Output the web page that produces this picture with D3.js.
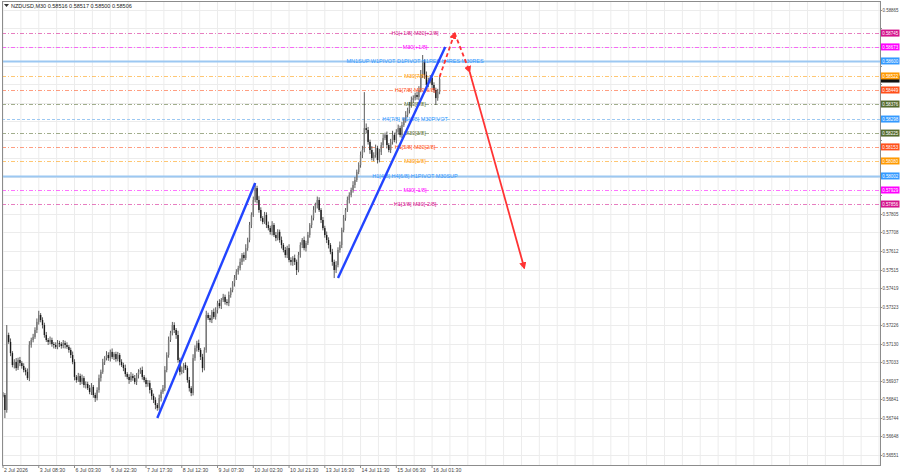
<!DOCTYPE html>
<html>
<head>
<meta charset="utf-8">
<script src="https://cdn.jsdelivr.net/npm/d3@7"></script>
<style>
  body { margin: 0; background: #fff; }
  svg { display: block; font-family: "Liberation Sans", Arial, sans-serif; }
</style>
</head>
<body>
<svg id="chart" width="900" height="474"></svg>
<script>
// ---- data ----
const titleText = "NZDUSD,M30  0.58516 0.58517 0.58500 0.58506";
const lastPrice = 0.58506;

// hourly closes (open = previous close)
const closes = [
  0.56863,0.56785,0.57175,0.57139,0.57081,0.57019,0.57035,0.57003,0.57045,0.57029,
  0.57014,0.56993,0.56983,0.56951,0.57123,0.57149,0.57165,0.57201,0.57243,0.57279,
  0.57253,0.57227,0.57175,0.57149,0.57139,0.57149,0.57128,0.57123,0.57113,0.57133,
  0.57128,0.57118,0.57133,0.57123,0.57113,0.57097,0.57071,0.57035,0.56957,0.56941,
  0.56962,0.56931,0.56951,0.56915,0.56920,0.56899,0.56879,0.56905,0.56863,0.56847,
  0.56889,0.56951,0.56983,0.57035,0.57055,0.57071,0.57055,0.57087,0.57061,0.57076,
  0.57050,0.57071,0.57035,0.57019,0.57003,0.56972,0.56957,0.56941,0.56962,0.56951,
  0.56931,0.56967,0.56983,0.56993,0.56957,0.56941,0.56920,0.56925,0.56889,0.56858,
  0.56837,0.56811,0.56795,0.56847,0.56879,0.56899,0.56993,0.57071,0.57149,0.57185,
  0.57227,0.57201,0.57175,0.57045,0.56983,0.56993,0.57019,0.57003,0.56941,0.56899,
  0.56873,0.57055,0.57107,0.57133,0.57097,0.57061,0.57003,0.57097,0.57279,0.57263,
  0.57253,0.57295,0.57269,0.57305,0.57341,0.57326,0.57357,0.57373,0.57347,0.57341,
  0.57383,0.57409,0.57445,0.57471,0.57503,0.57523,0.57555,0.57591,0.57575,0.57627,
  0.57669,0.57747,0.57799,0.57877,0.57939,0.57877,0.57825,0.57783,0.57763,0.57799,
  0.57747,0.57731,0.57711,0.57747,0.57695,0.57679,0.57711,0.57669,0.57643,0.57617,
  0.57591,0.57627,0.57565,0.57555,0.57575,0.57555,0.57513,0.57591,0.57643,0.57669,
  0.57627,0.57653,0.57695,0.57747,0.57783,0.57825,0.57851,0.57877,0.57825,0.57773,
  0.57731,0.57695,0.57669,0.57643,0.57607,0.57555,0.57513,0.57539,0.57617,0.57643,
  0.57721,0.57783,0.57825,0.57877,0.57903,0.57929,0.57955,0.57981,0.58023,0.58059,
  0.58111,0.58137,0.58251,0.58241,0.58179,0.58137,0.58095,0.58111,0.58147,0.58085,
  0.58127,0.58163,0.58199,0.58215,0.58163,0.58137,0.58179,0.58215,0.58189,0.58231,
  0.58251,0.58215,0.58267,0.58293,0.58319,0.58345,0.58371,0.58397,0.58407,0.58423,
  0.58413,0.58449,0.58527,0.58595,0.58527,0.58475,0.58501,0.58511,0.58475,0.58449,
  0.58407,0.58439,0.58506
];

// wick lengths in points (0.00001), above body / below body
const upWick = [
  15,10,52,12,18,10,14,20,12,16, 10,14,12,18,20,12,16,14,18,22,
  10,14,12,16,10,18,12,10,14,16, 12,10,16,12,14,10,12,18,14,10,
  16,12,18,10,14,12,16,20,10,12, 14,18,12,16,10,20,14,12,18,10,
  12,16,10,14,12,18,10,14,20,12, 16,10,14,12,18,10,12,16,14,10,
  12,14,10,18,12,16,20,14,18,12, 16,14,10,22,12,18,10,14,12,16,
  10,20,14,12,18,10,16,14,22,12, 16,10,18,14,12,20,10,16,12,14,
  18,12,10,16,14,12,18,10,14,20, 12,16,14,18,26,12,20,14,10,16,
  14,18,12,20,10,16,14,12,18,10, 16,12,20,14,10,18,12,16,14,10,
  18,12,16,10,14,20,12,18,14,10, 16,12,18,14,10,16,12,20,14,18,
  12,16,10,18,14,12,20,16,12,14, 18,22,187,24,16,12,20,14,18,12,
  16,14,20,12,18,10,16,22,12,14, 18,12,16,14,20,12,16,18,14,12,
  16,20,26,36,14,18,12,16,20,14, 12,16,10
];
const downWick = [
  12,42,14,10,16,12,18,14,10,16, 14,12,18,10,16,14,12,10,16,14,
  12,18,14,10,16,12,14,18,10,12, 16,14,12,18,10,14,16,12,18,14,
  10,16,12,14,18,10,12,16,14,20, 12,14,18,10,16,12,14,18,10,16,
  14,12,18,10,16,14,12,20,10,14, 12,16,18,10,14,12,16,14,18,20,
  16,22,14,12,18,10,16,12,14,10, 12,16,20,14,18,12,16,10,14,18,
  16,12,14,18,10,16,22,12,14,10, 12,16,10,14,18,12,16,10,14,12,
  16,14,12,18,10,14,12,16,18,10, 14,12,16,10,12,18,14,16,12,10,
  16,12,14,18,10,16,12,14,18,12, 14,16,12,18,20,16,26,12,14,16,
  12,18,10,14,16,12,14,18,10,16, 12,14,16,18,12,20,42,16,12,14,
  16,12,14,10,18,12,14,16,10,12, 14,16,12,18,14,20,12,16,14,18,
  12,16,14,10,18,12,16,14,12,18, 14,12,16,10,14,12,18,14,16,12,
  14,18,12,16,20,14,12,18,16,14, 36,14,12
];

const timeLabels = ["2 Jul 2026","3 Jul 08:30","6 Jul 03:30","6 Jul 22:30","7 Jul 17:30",
  "8 Jul 12:30","9 Jul 07:30","10 Jul 02:30","10 Jul 21:30","13 Jul 16:30",
  "14 Jul 11:30","15 Jul 06:30","16 Jul 01:30"];
const timeLabelBars = [0,19,38,57,76,95,114,133,152,171,190,209,228];

const priceTicks = [0.58865,0.58769,0.58672,0.58576,0.58479,0.58383,0.58287,0.58190,
  0.58094,0.57997,0.57901,0.57805,0.57708,0.57612,0.57515,0.57419,0.57323,0.57226,
  0.57130,0.57033,0.56937,0.56841,0.56744,0.56648,0.56551];

const levelPrices = [0.58745,0.58673,0.58600,0.58522,0.58449,0.58376,0.58298,
  0.58225,0.58153,0.58080,0.58002,0.57929,0.57856];
const levelNames = ["H1[+1/8] M30[+2/8]","M30[+1/8]",
  "MN1SUP W1PIVOT D1PIVOT H1RES H4RES M30RES","M30[7/8]","H1[7/8] M30[6/8]",
  "M30[5/8]","H4[7/8] H1[6/8] M30PIVOT","M30[3/8]","H1[5/8] M30[2/8]","M30[1/8]",
  "H1[4/8] H4[6/8] H1PIVOT M30SUP","M30[-1/8]","H1[3/8] M30[-2/8]"];
const levelColors = ["#d4148c","#ff00ff","#3399ff","#ff9900","#ff4f1a","#556b2f",
  "#3399ff","#556b2f","#ff4f1a","#ff9900","#3399ff","#ff00ff","#d4148c"];
const levelKinds = ["dash","dash","thick","dash","dash","dash","blue","dash","dash",
  "dash","thick","dash","dash"];

// drawn objects: [bar index, price]
const trendLine1 = [[82,0.56743],[134,0.57965]];
const trendLine2 = [[178,0.57471],[235,0.58673]];
const projUp = [[232,0.58517],[240,0.58745]];
const projDown = [[240,0.58745],[248,0.58543]];
const projMain = [[248,0.58543],[277,0.57523]];

// ---- layout ----
const W = 900, H = 474;
const plot = {left: 2, right: 880, top: 1, bottom: 465};

const svg = d3.select("#chart");
svg.append("rect").attr("width", W).attr("height", H).attr("fill", "#fff");

const x = d3.scaleLinear().domain([0, closes.length - 1]).range([3, 439.6]);
const y = d3.scaleLinear().domain([0.56551, 0.58865]).range([455, 10]);

const defs = svg.append("defs");
defs.append("clipPath").attr("id", "clip").append("rect")
  .attr("x", plot.left).attr("y", plot.top)
  .attr("width", plot.right - plot.left).attr("height", plot.bottom - plot.top);
defs.append("marker").attr("id", "arrowRed")
  .attr("viewBox", "0 0 10 10").attr("refX", 8).attr("refY", 5)
  .attr("markerWidth", 4).attr("markerHeight", 4).attr("orient", "auto")
  .append("path").attr("d", "M0,0 L10,5 L0,10 z").attr("fill", "#ff3333");

// grid
const grid = svg.append("g").attr("clip-path", "url(#clip)");
const barStep = 9.5;
grid.selectAll("line.v").data(d3.range(0, 480, barStep)).enter().append("line")
  .attr("x1", d => x(d)).attr("x2", d => x(d))
  .attr("y1", plot.top).attr("y2", plot.bottom)
  .attr("stroke", "#ececec").attr("stroke-width", 1);
grid.selectAll("line.h").data(priceTicks).enter().append("line")
  .attr("x1", plot.left).attr("x2", plot.right)
  .attr("y1", d => Math.round(y(d)) + 0.5).attr("y2", d => Math.round(y(d)) + 0.5)
  .attr("stroke", "#ececec").attr("stroke-width", 1);

// level lines
const levels = svg.append("g").attr("clip-path", "url(#clip)");
levelPrices.forEach((p, i) => {
  const kind = levelKinds[i];
  const yy = Math.round(y(p)) + 0.5;
  levels.append("line")
    .attr("x1", plot.left).attr("x2", plot.right)
    .attr("y1", yy).attr("y2", yy)
    .attr("stroke", kind === "dash" ? levelColors[i] : "#9cc8f2")
    .attr("stroke-opacity", kind === "dash" ? 0.55 : 1)
    .attr("stroke-width", kind === "thick" ? 2 : 1)
    .attr("stroke-dasharray", kind === "thick" ? null : (kind === "blue" ? "3,2" : "4,2,1,2"));
});

// candles
const candles = svg.append("g").attr("clip-path", "url(#clip)");
closes.forEach((c, i) => {
  const o = i === 0 ? c : closes[i - 1];
  const top = Math.max(o, c), bot = Math.min(o, c);
  const hi = top + upWick[i] / 100000;
  const lo = bot - downWick[i] / 100000;
  const cx = x(i);
  candles.append("line")
    .attr("x1", cx).attr("x2", cx).attr("y1", y(hi)).attr("y2", y(lo))
    .attr("stroke", "#4a4a4a").attr("stroke-width", 0.9);
  candles.append("rect")
    .attr("x", cx - 0.7).attr("width", 1.4)
    .attr("y", y(top)).attr("height", Math.max(0.8, y(bot) - y(top)))
    .attr("fill", c >= o ? "#7a7a7a" : "#1a1a1a");
});

// level labels
levelPrices.forEach((p, i) => {
  svg.append("text")
    .attr("x", 415).attr("y", y(p) + 2)
    .attr("text-anchor", "middle")
    .attr("font-size", 5.5)
    .attr("fill", levelColors[i])
    .text(levelNames[i]);
});

// trend lines
const line = d3.line().x(d => x(d[0])).y(d => y(d[1]));
const marks = svg.append("g").attr("clip-path", "url(#clip)");
[trendLine1, trendLine2].forEach(seg => {
  marks.append("path").attr("d", line(seg))
    .attr("stroke", "#2244ff").attr("stroke-width", 2.4).attr("fill", "none");
});
[projUp, projDown].forEach(seg => {
  marks.append("path").attr("d", line(seg))
    .attr("stroke", "#ff3333").attr("stroke-width", 1.8).attr("fill", "none")
    .attr("stroke-dasharray", "4,3").attr("marker-end", "url(#arrowRed)");
});
marks.append("path").attr("d", line(projMain))
  .attr("stroke", "#ff3333").attr("stroke-width", 1.8).attr("fill", "none")
  .attr("marker-end", "url(#arrowRed)");

// frame
svg.append("rect")
  .attr("x", plot.left + 0.5).attr("y", plot.top + 0.5)
  .attr("width", plot.right - plot.left).attr("height", plot.bottom - plot.top)
  .attr("fill", "none").attr("stroke", "#8c8c8c").attr("stroke-width", 1);

// price axis (labels squeezed into the narrow strip on the right)
const axisFont = 4.6, axisLen = 16;
const boxPrices = levelPrices.concat([lastPrice]);
const yAxis = svg.append("g");
priceTicks.forEach(p => {
  const yy = Math.round(y(p)) + 0.5;
  yAxis.append("line").attr("x1", plot.right).attr("x2", plot.right + 2)
    .attr("y1", yy).attr("y2", yy).attr("stroke", "#8c8c8c");
  // a coloured price box covers the tick label, as in the terminal
  if (boxPrices.some(b => Math.abs(y(b) - y(p)) < 7)) return;
  yAxis.append("text").attr("x", plot.right + 2.5).attr("y", yy + 1.8)
    .attr("font-size", axisFont).attr("fill", "#444")
    .attr("textLength", axisLen).attr("lengthAdjust", "spacingAndGlyphs")
    .text(p.toFixed(5));
});
// bid box sits under the level boxes; only its lower edge peeks out
yAxis.append("rect").attr("x", plot.right + 1).attr("y", y(lastPrice) - 3.5)
  .attr("width", 18.5).attr("height", 7).attr("fill", "#111");
levelPrices.forEach((p, i) => {
  const yy = y(p);
  yAxis.append("rect").attr("x", plot.right + 1).attr("y", yy - 3.5)
    .attr("width", 18.5).attr("height", 7).attr("fill", levelColors[i]);
  yAxis.append("text").attr("x", plot.right + 2.2).attr("y", yy + 1.8)
    .attr("font-size", axisFont).attr("fill", "#fff")
    .attr("textLength", axisLen).attr("lengthAdjust", "spacingAndGlyphs")
    .text(p.toFixed(5));
});

// time axis
const xAxis = svg.append("g");
timeLabelBars.forEach((b, i) => {
  xAxis.append("line").attr("x1", x(b)).attr("x2", x(b))
    .attr("y1", plot.bottom).attr("y2", plot.bottom + 3).attr("stroke", "#8c8c8c");
  xAxis.append("text").attr("x", x(b) + 1).attr("y", plot.bottom + 7)
    .attr("font-size", 5.2).attr("fill", "#444").text(timeLabels[i]);
});

// title
svg.append("path").attr("d", "M4,4 L9,4 L6.5,7 z").attr("fill", "#333");
svg.append("text").attr("x", 11).attr("y", 7.5)
  .attr("font-size", 5.5).attr("fill", "#222").text(titleText);
</script>
</body>
</html>
